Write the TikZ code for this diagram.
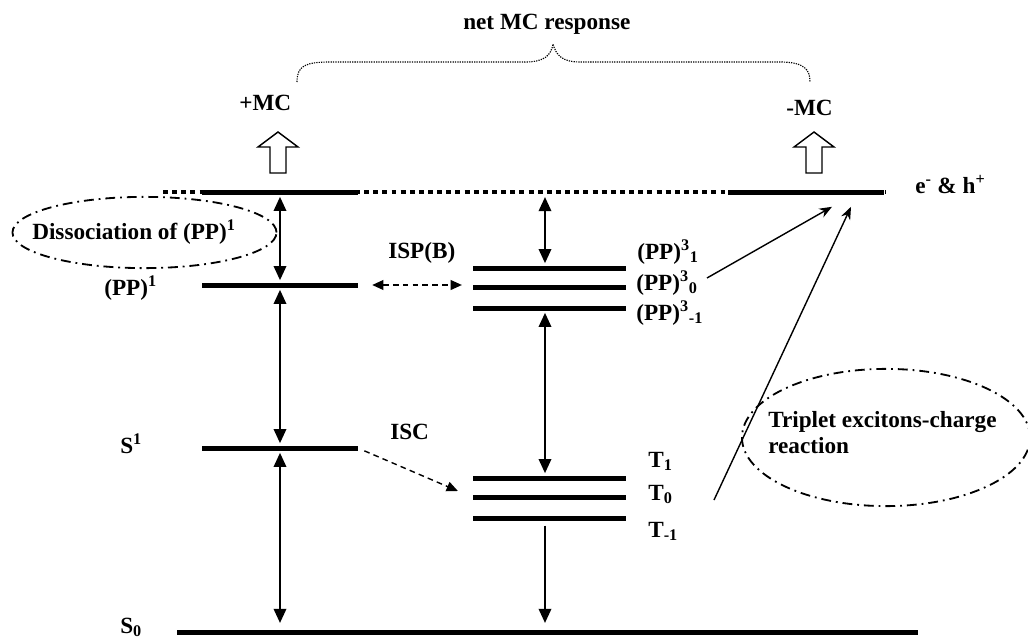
\documentclass[tikz,border=0pt]{standalone}
\usepackage{fontspec}
\setmainfont{Liberation Serif}
\usetikzlibrary{arrows.meta, shapes.geometric}

\begin{document}
\begin{tikzpicture}[x=0.025cm, y=-0.025cm,
    txt/.style={anchor=base west, inner sep=0pt, font=\bfseries\fontsize{16.5}{18.5}\selectfont},
    level/.style={fill=black, inner sep=0pt, minimum height=0.125cm},
    dbl/.style={line width=1pt, shorten <=1.5pt, shorten >=1.5pt,
        {Triangle[length=10pt,width=9pt]}-{Triangle[length=10pt,width=9pt]}},
    sgl/.style={line width=1pt, -{Triangle[length=10pt,width=9pt]}},
    dashdbl/.style={line width=1pt, dash pattern=on 4pt off 3pt,
        {Triangle[length=8pt,width=7pt]}-{Triangle[length=8pt,width=7pt]}},
    dashsgl/.style={line width=1pt, dash pattern=on 4pt off 3pt, -{Triangle[length=8pt,width=7pt]}},
    react/.style={line width=1pt, -{Stealth[length=9pt,width=7pt]}},
    ring/.style={ellipse, draw, inner sep=0pt, line width=1.3pt,
        dash pattern=on 7pt off 3.5pt on 1.3pt off 3.5pt},
    mcarrow/.pic={\draw[line width=1pt, fill=white] (-8,0) -- (-8,-26) -- (-20,-26)
        -- (0,-41) -- (20,-26) -- (8,-26) -- (8,0) -- cycle;}
]
    \useasboundingbox (0,0) rectangle (1028,638);
    \clip (0,0) rectangle (1028,638);

    % free carrier level: e h
    \draw[line width=3.5pt, dash pattern=on 3.5pt off 3pt] (163,192) -- (886,192);
    \node[level, minimum width=3.9cm] (ehL) at (280,192) {};
    \node[level, minimum width=3.9cm] (ehR) at (806,192) {};
    \coordinate (ehM) at (545,195);
    \node[txt] (eh) at (915,193) {e\textsuperscript{-} \& h\textsuperscript{+}};

    % singlet levels: pp1 s1 s0
    \node[level, minimum width=3.875cm] (pp1) at (280,285) {};
    \node[level, minimum width=3.875cm] (s1) at (280,448) {};
    \node[level, minimum width=18.525cm] (s0) at (547.5,632) {};
    \node[txt] (pp1lbl) at (104,295) {(PP)\textsuperscript{1}};
    \node[txt] (s1lbl) at (120,453) {S\textsuperscript{1}};
    \node[txt] (s0lbl) at (120,633) {S\textsubscript{0}};

    % triplet levels: pp3p pp3z pp3m t1 t0 tm
    \node[level, minimum width=3.825cm] (pp3p) at (549.5,268) {};
    \node[level, minimum width=3.825cm] (pp3z) at (549.5,287) {};
    \node[level, minimum width=3.825cm] (pp3m) at (549.5,308) {};
    \node[level, minimum width=3.825cm] (t1) at (549.5,478) {};
    \node[level, minimum width=3.825cm] (t0) at (549.5,497) {};
    \node[level, minimum width=3.825cm] (tm) at (549.5,518) {};
    \node[txt] (pp3plbl) at (637,259) {(PP)\textsuperscript{3}\textsubscript{1}};
    \node[txt] (pp3zlbl) at (636,290) {(PP)\textsuperscript{3}\textsubscript{0}};
    \node[txt] (pp3mlbl) at (636,320) {(PP)\textsuperscript{3}\textsubscript{-1}};
    \node[txt] (t1lbl) at (648,467) {T\textsubscript{1}};
    \node[txt] (t0lbl) at (648,500) {T\textsubscript{0}};
    \node[txt] (tmlbl) at (648,537) {T\textsubscript{-1}};

    % MC response: arrows and brace
    \pic at (278,173) {mcarrow};
    \pic at (814,173) {mcarrow};
    \node[txt] (pmc) at (239,110) {+MC};
    \node[txt] (nmc) at (786,115) {-MC};
    \node[txt] (net) at (463,29) {net MC response};
    \draw[line width=0.8pt, dash pattern=on 0.9pt off 0.8pt] (297,82) .. controls (297,66) and (305,62) .. (330,62)
        -- (525,62) .. controls (545,62) and (551,55) .. (553,44)
        .. controls (556,55) and (562,62) .. (580,62)
        -- (780,62) .. controls (805,62) and (810,70) .. (810,82);

    % process rings
    \node[ring, minimum width=6.6cm, minimum height=1.78cm] (dissring) at (144.5,232.5) {};
    \node[txt] (diss) at (32,239) {Dissociation of (PP)\textsuperscript{1}};
    \node[ring, minimum width=7.2cm, minimum height=3.43cm] (tripring) at (886,437.5) {};
    \node[txt, anchor=west, align=left] (trip) at (768,433) {Triplet excitons-charge\\reaction};

    % edges: singlet side
    \draw[dbl] (ehL.south) -- (pp1.north);
    \draw[dbl] (pp1.south) -- (s1.north);
    \draw[dbl, shorten >=4.5pt] (s1.south) -- (s1.south |- s0.north);
    % edges: triplet side
    \draw[dbl] (ehM) -- (ehM |- pp3p.north);
    \draw[dbl] (pp3m.south -| ehM) -- (t1.north -| ehM);
    \draw[sgl, shorten <=3.5pt, shorten >=4.5pt] (tm.south -| ehM) -- (s0.north -| ehM);
    % edges: ISP and ISC
    \node[txt] (isp) at (388,258) {ISP(B)};
    \draw[dashdbl, shorten <=0.36cm, shorten >=0.27cm] (pp1.east) -- (pp1.east -| pp3z.west);
    \node[txt] (isc) at (390,439) {ISC};
    \draw[dashsgl, shorten <=0.18cm] (s1.east) -- ([xshift=-0.37cm, yshift=0.15cm]t0.west);
    % edges: into e h
    \coordinate (ppfree) at (707,278);
    \coordinate (tfree) at (714,500);
    \draw[react] (ppfree) -- ([xshift=0.65cm, yshift=-0.3cm]ehR.south);
    \draw[react] (tfree) -- ([xshift=1.125cm, yshift=-0.3cm]ehR.south);
\end{tikzpicture}
\end{document}
